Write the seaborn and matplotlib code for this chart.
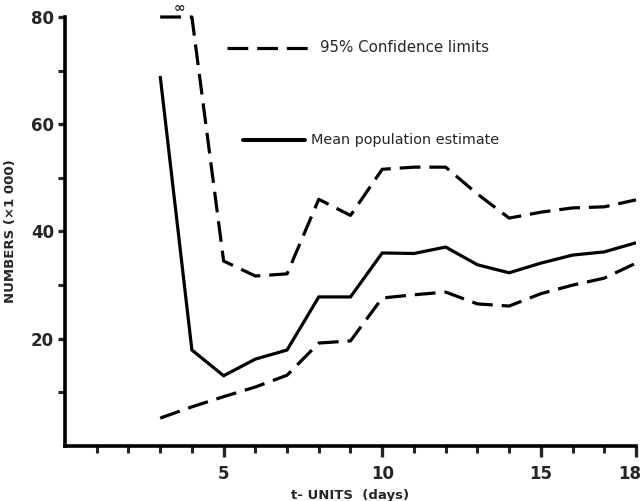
import matplotlib
matplotlib.use("Agg")
import matplotlib.pyplot as plt
import matplotlib.transforms as mtransforms
import seaborn as sns
import pandas as pd
from matplotlib.ticker import FixedLocator

# ---- data ----
t_units = [3, 4, 5, 6, 7, 8, 9, 10, 11, 12, 13, 14, 15, 16, 17, 18]
mean_est = [69, 17.9, 13.1, 16.2, 17.9, 27.8, 27.8, 36.0, 35.9, 37.1, 33.8, 32.3, 34.1, 35.6, 36.2, 37.9]
upper_ci = [80, 80, 34.5, 31.7, 32.1, 46.0, 43.0, 51.6, 52.0, 52.0, 47.0, 42.5, 43.6, 44.4, 44.6, 45.9]
lower_ci = [5.2, 7.3, 9.2, 11.0, 13.2, 19.2, 19.6, 27.6, 28.2, 28.7, 26.5, 26.1, 28.4, 30.0, 31.3, 34.1]
y_tick_labels = [20, 40, 60, 80]
x_tick_labels = [5, 10, 15, 18]

sns.set_style("white")
plt.rcParams["font.family"] = ["DejaVu Sans"]

fig = plt.figure(figsize=(6.43, 5.01), dpi=100)
ax = fig.add_axes([65/643, 55/501, (636-65)/643, (446-17)/501])

df_mean = pd.DataFrame({"t": t_units, "v": mean_est})
df_up = pd.DataFrame({"t": t_units, "v": upper_ci})
df_lo = pd.DataFrame({"t": t_units, "v": lower_ci})

lw = 2.3
dash = (6.5, 2.8)
sns.lineplot(data=df_mean, x="t", y="v", ax=ax, color="black", lw=lw,
             solid_joinstyle="miter", solid_capstyle="butt")
l1 = sns.lineplot(data=df_up, x="t", y="v", ax=ax, color="black", lw=lw).lines[-1]
l1.set_dashes(dash)
l1.set_clip_on(False)
l2 = sns.lineplot(data=df_lo, x="t", y="v", ax=ax, color="black", lw=lw).lines[-1]
l2.set_dashes(dash)

ax.set_xlim(0, 18)
ax.set_ylim(0, 80)

# infinity marker at top of the upper limit
ax.text(3.6, 80.4, "∞", ha="center", va="bottom", fontsize=10, fontweight="bold")

# legend drawn as lines + text
ax.plot([5.1, 7.8], [74.3, 74.3], color="black", lw=lw, dashes=dash, clip_on=False)
ax.text(8.05, 74.3, "95% Confidence limits", va="center", ha="left", fontsize=10.8)
ax.plot([5.6, 7.55], [57.0, 57.0], color="black", lw=lw + 0.6, clip_on=False)
ax.text(7.75, 57.0, "Mean population estimate", va="center", ha="left", fontsize=10.4)

# axes styling
for s in ["top", "right"]:
    ax.spines[s].set_visible(False)
for s in ["left", "bottom"]:
    ax.spines[s].set_linewidth(2.6)
    ax.spines[s].set_color("black")

ax.xaxis.set_major_locator(FixedLocator(x_tick_labels))
ax.xaxis.set_minor_locator(FixedLocator([i for i in range(1, 18) if i not in x_tick_labels]))
ax.yaxis.set_major_locator(FixedLocator(y_tick_labels))
ax.yaxis.set_minor_locator(FixedLocator([10, 30, 50, 70]))
ax.tick_params(axis="x", which="major", direction="out", length=8, width=2.4, pad=6,
               labelsize=12, bottom=True)
ax.tick_params(axis="x", which="minor", direction="out", length=5, width=2.2, bottom=True)
ax.tick_params(axis="y", which="major", direction="out", length=5, width=2.4, pad=3,
               labelsize=12, left=True)
ax.tick_params(axis="y", which="minor", direction="out", length=5, width=2.2, left=True)
for lab in ax.get_xticklabels() + ax.get_yticklabels():
    lab.set_fontweight("bold")

# nudge the "18" label so it stays inside the figure
last = ax.get_xticklabels()[-1]
last.set_transform(last.get_transform() + mtransforms.ScaledTranslation(-6/100, 0, fig.dpi_scale_trans))

ax.set_xlabel("t- UNITS  (days)", fontsize=9.5, fontweight="bold", labelpad=4)
ax.set_ylabel("NUMBERS (×1 000)", fontsize=9.5, fontweight="bold", labelpad=10)

fig.savefig("out.png", dpi=100, facecolor="white")
